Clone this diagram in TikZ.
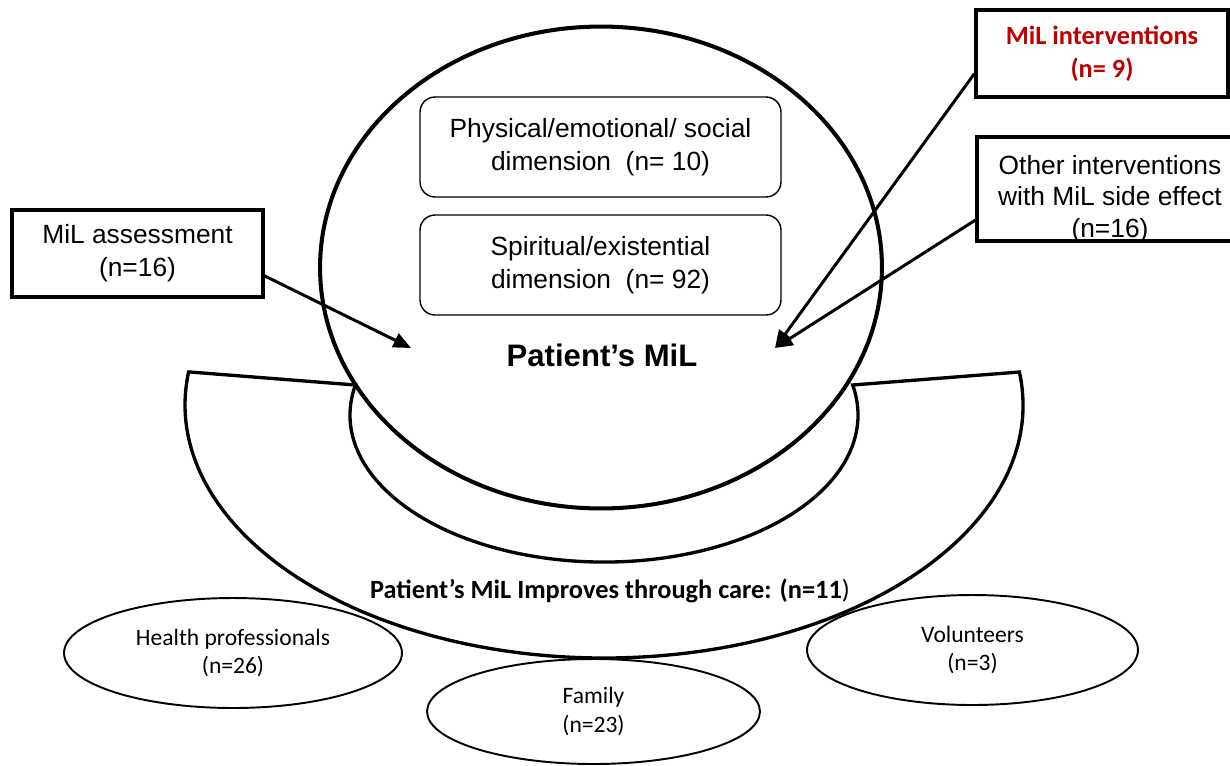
\documentclass[tikz,border=0pt]{standalone}
\usepackage{fontspec}
\setmainfont{Liberation Sans}
\newfontfamily\calibri{Carlito}
\usetikzlibrary{shapes.geometric,arrows.meta}
\definecolor{milred}{HTML}{C00000}
\tikzset{
  framebox/.style={draw=black, line width=1.9pt, minimum height=1.74cm, align=center, font=\fontsize{15}{18.7}\selectfont},
  dimbox/.style={draw=black, line width=0.8pt, rounded corners=0.3cm, minimum width=7.22cm, minimum height=2cm, align=center, font=\fontsize{15}{18.7}\selectfont},
  groupellipse/.style={draw=black, ellipse, line width=1.1pt, align=center, font=\calibri\fontsize{13.4}{16.4}\selectfont},
  conn/.style={draw=black, line width=1.7pt, -{Triangle[length=10pt, width=8.5pt]}},
  cupline/.style={draw=black, line width=1.9pt}
}
\begin{document}
\begin{tikzpicture}[x=0.02cm, y=-0.02cm]
\useasboundingbox (0,0) rectangle (1230,765);
\draw [cupline] (190,372) -- (355.4,385) arc[start angle=191.8, end angle=-11.8, x radius=254, y radius=147] -- (1019.4,372) arc[start angle=-7.5, end angle=187.5, x radius=419, y radius=253] -- cycle;
\node (improve) [font=\calibri\fontsize{15}{18}\selectfont] at (610,591) {\textbf{Patient’s MiL Improves through care: (n=11})};
\node (mil) [draw=black, ellipse, line width=2.3pt, minimum width=11.24cm, minimum height=9.64cm] at (601,267.5) {};
\node (miltext) [font=\bfseries\fontsize{17.7}{21}\selectfont] at (602,355) {Patient’s MiL};
\node (phys) [dimbox] at (600.5,147) {Physical/emotional/ social\\dimension\ \ (n= 10)};
\node (spirit) [dimbox] at (600.5,265) {Spiritual/existential\\dimension\ \ (n= 92)};
\node (assess) [framebox, minimum width=5.02cm] at (137.5,253.5) {MiL assessment\\(n=16)};
\node (interv) [framebox, minimum width=5.04cm, text=milred, font=\calibri\bfseries\fontsize{15}{18.7}\selectfont] at (1102,53.5) {MiL interventions\\(n= 9)};
\node (otherbox) [draw=black, line width=1.9pt, minimum width=5.32cm, minimum height=2.08cm] at (1110,189) {};
\node (other) [align=center, font=\fontsize{15}{18}\selectfont] at (1110,199) {Other interventions\\with MiL side effect\\(n=16)};
\coordinate (tipL) at (411,348);
\coordinate (tipR) at (775,348);
\draw [conn] (assess.-10) -- (tipL);
\draw [conn] (interv.189) -- (tipR);
\draw [conn] (otherbox.193) -- (tipR);
\node (health) [groupellipse, minimum width=6.76cm, minimum height=2.2cm] at (233,653) {Health professionals\\(n=26)};
\node (family) [groupellipse, minimum width=6.66cm, minimum height=2.1cm] at (593.5,711.5) {Family\\(n=23)};
\node (volunt) [groupellipse, minimum width=6.62cm, minimum height=2.2cm] at (972.5,650) {Volunteers\\(n=3)};
\end{tikzpicture}
\end{document}
